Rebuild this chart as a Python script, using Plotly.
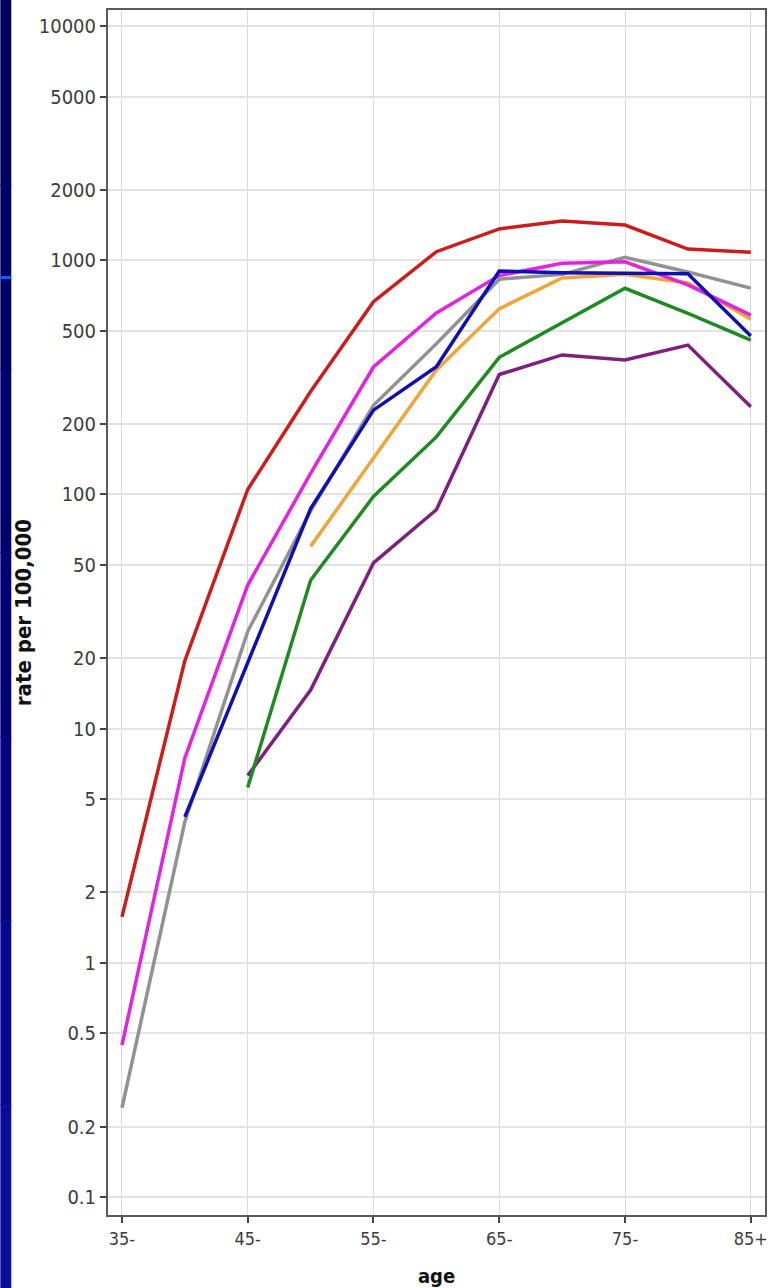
import plotly.graph_objects as go

# ---- data ----
ages = [35, 40, 45, 50, 55, 60, 65, 70, 75, 80, 85]
tick_ages = [35, 45, 55, 65, 75, 85]
tick_age_labels = ["35-", "45-", "55-", "65-", "75-", "85+"]
y_ticks = [0.1, 0.2, 0.5, 1, 2, 5, 10, 20, 50, 100, 200, 500, 1000, 2000, 5000, 10000]
y_tick_labels = ["0.1", "0.2", "0.5", "1", "2", "5", "10", "20", "50", "100",
                 "200", "500", "1000", "2000", "5000", "10000"]

grey_series = [0.24, 4.0, 26, 85, 240, 440, 830, 870, 1030, 890, 760]
orange_series = [None, None, None, 60, 143, 340, 620, 840, 870, 800, 560]
purple_series = [None, None, 6.3, 14.6, 51, 86, 325, 394, 375, 434, 237]
green_series = [None, None, 5.6, 43, 98, 176, 385, 538, 759, 593, 456]
magenta_series = [0.445, 7.5, 41, 123, 350, 595, 860, 970, 985, 784, 583]
red_series = [1.57, 19.5, 105, 275, 665, 1087, 1360, 1470, 1413, 1116, 1081]
blue_series = [None, 4.2, 19, 87, 229, 351, 900, 885, 880, 875, 475]

series = [
    ("grey", grey_series, "#929292"),
    ("orange", orange_series, "#f0a43a"),
    ("purple", purple_series, "#7f1f80"),
    ("green", green_series, "#1f8a22"),
    ("magenta", magenta_series, "#e024e0"),
    ("red", red_series, "#cc1c1c"),
    ("blue", blue_series, "#0f0fb4"),
]

FONT = "DejaVu Sans Condensed, Liberation Sans Narrow, DejaVu Sans, sans-serif"

fig = go.Figure()
for name, vals, col in series:
    fig.add_trace(go.Scatter(x=ages, y=vals, mode="lines", name=name,
                             line=dict(color=col, width=3.5), connectgaps=False,
                             showlegend=False))

W, H = 770, 1288
L, R, T, B = 107, 2, 9, 72
pw, ph = W - L - R, H - T - B

def px_to_paper_x(px):
    return (px - L) / pw

def px_to_paper_y(py):
    return (H - B - py) / ph

shapes = []
# left blue strip (slight gradient from navy to blue)
band_cols = ["#00005e", "#000064", "#00006c", "#020276", "#050582", "#08088e", "#0c0c99"]
nb = len(band_cols)
for i, c in enumerate(band_cols):
    y_top = i * H / nb
    y_bot = (i + 1) * H / nb + 1
    shapes.append(dict(type="rect", xref="paper", yref="paper",
                       x0=px_to_paper_x(0), x1=px_to_paper_x(11),
                       y0=px_to_paper_y(y_bot), y1=px_to_paper_y(y_top),
                       fillcolor=c, line=dict(width=0), layer="below"))
shapes.append(dict(type="rect", xref="paper", yref="paper",
                   x0=px_to_paper_x(0), x1=px_to_paper_x(11),
                   y0=px_to_paper_y(279), y1=px_to_paper_y(276),
                   fillcolor="#0a5cff", line=dict(width=0), layer="below"))
# plot frame
shapes.append(dict(type="rect", xref="paper", yref="paper", x0=0, x1=1, y0=0, y1=1,
                   line=dict(color="#5a5a5a", width=2), layer="above"))

fig.update_layout(
    width=W, height=H,
    margin=dict(l=L, r=R, t=T, b=B),
    paper_bgcolor="white", plot_bgcolor="white",
    shapes=shapes,
    font=dict(family=FONT, size=20, color="#3c3c3c"),
    xaxis=dict(range=[33.81, 86.21], tickmode="array", tickvals=tick_ages,
               ticktext=tick_age_labels, ticks="outside", ticklen=6,
               tickcolor="#444", tickwidth=1.5, tickfont=dict(size=18),
               showgrid=True, gridcolor="#dadada", gridwidth=1,
               zeroline=False, showline=False,
               title=dict(text="age",
                          font=dict(family=FONT, size=20, color="#111", weight="bold"),
                          standoff=22)),
    yaxis=dict(type="log", range=[-1.081, 4.0726], tickmode="array",
               tickvals=y_ticks, ticktext=y_tick_labels, ticks="outside",
               ticklen=6, tickcolor="#444", tickwidth=1.5,
               showgrid=True, gridcolor="#e2e2e2", gridwidth=2,
               zeroline=False, showline=False,
               title=dict(text="rate per 100,000",
                          font=dict(family=FONT, size=22, color="#111", weight="bold"),
                          standoff=1)),
)

fig.write_html("out.html", config={"displayModeBar": False},
               post_script="document.body.style.margin='0';document.body.style.overflow='hidden';")
